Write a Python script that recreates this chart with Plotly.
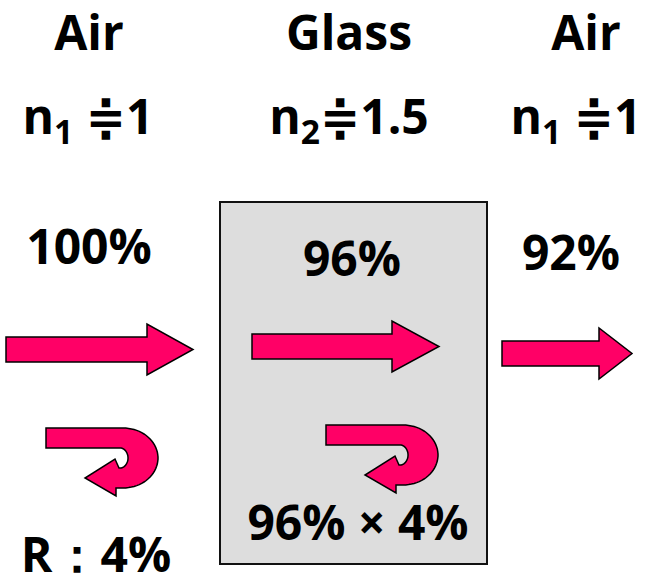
import numpy as np
import plotly.graph_objects as go

# ---- data ----
media = ["Air", "Glass", "Air"]
index_sub = ["1", "2", "1"]
index_val = ["1", "1.5", "1"]
transmitted = [100, 96, 92]      # % of light passing each region
reflect_pct = 4                  # % reflected at each surface

# ---- layout geometry (pixel-like data coordinates) ----
W, H = 653, 584
PINK = "#FF0066"
FONT = "Open Sans"

media_x = [89, 349, 586]
media_y = [38, 38, 38]
index_x = [88, 349, 576]
index_y = [122, 122, 122]
trans_x = [89, 352, 571]
trans_y = [252, 264, 258]

fig = go.Figure()

# glass slab
fig.add_shape(type="rect", x0=220, x1=487, y0=202, y1=564,
              fillcolor="#DDDDDD", line=dict(color="#111111", width=2), layer="below")

def right_arrow(x0, xh, xt, yc, shaft_h, head_h):
    pts = [(x0, yc - shaft_h / 2), (xh, yc - shaft_h / 2), (xh, yc - head_h / 2),
           (xt, yc), (xh, yc + head_h / 2), (xh, yc + shaft_h / 2), (x0, yc + shaft_h / 2)]
    return "M " + " L ".join(f"{x:.1f},{y:.1f}" for x, y in pts) + " Z"

for (x0, xh, xt, yc) in [(6, 147, 193, 349.5), (252, 392, 439, 346.5), (502, 599, 632, 353.5)]:
    fig.add_shape(type="path", path=right_arrow(x0, xh, xt, yc, 25, 51),
                  fillcolor=PINK, line=dict(color="black", width=1.5))

def uturn(dx, dy):
    pts = [(46, 428), (123, 428)]
    t = np.linspace(-np.pi / 2, np.pi / 2, 40)
    pts += [(123 + 35 * np.cos(a), 458 + 30 * np.sin(a)) for a in t]
    pts += [(116, 488), (116, 496), (85, 478), (115, 459), (119, 468)]
    t2 = np.linspace(np.pi / 2, -np.pi / 2, 20)
    pts += [(120 + 8 * np.cos(a), 458 + 10 * np.sin(a)) for a in t2]
    pts += [(46, 448)]
    return "M " + " L ".join(f"{x + dx:.1f},{y + dy:.1f}" for x, y in pts) + " Z"

for dx, dy in [(0, 0), (280, -3)]:
    fig.add_shape(type="path", path=uturn(dx, dy),
                  fillcolor=PINK, line=dict(color="black", width=1.5))

# text labels
EQ = '<span style="font-family:DejaVu Sans">≑</span>'
labels = list(media)
xs = list(media_x)
ys = list(media_y)
for i, (s, v) in enumerate(zip(index_sub, index_val)):
    gap = "" if media[i] == "Glass" else " "
    labels.append(f"n<sub>{s}</sub>{gap}{EQ}{v}")
xs += index_x
ys += index_y
labels += [f"{t}%" for t in transmitted]
xs += trans_x
ys += trans_y
labels += [f"{transmitted[1]}% × {reflect_pct}%", f"R：{reflect_pct}%"]
xs += [358, 96]
ys += [528, 560]

fig.add_trace(go.Scatter(x=xs, y=ys, text=labels, mode="text", cliponaxis=False,
                         textposition="middle center", hoverinfo="skip",
                         textfont=dict(family=FONT, size=48, color="black", weight="bold")))

fig.update_layout(width=W, height=H, margin=dict(l=0, r=0, t=0, b=0),
                  paper_bgcolor="white", plot_bgcolor="white", showlegend=False,
                  xaxis=dict(range=[0, W], visible=False, fixedrange=True),
                  yaxis=dict(range=[H, 0], visible=False, fixedrange=True))

fig.write_html("out.html", config={"displayModeBar": False},
               post_script="document.body.style.margin='0';document.body.style.overflow='hidden';")
